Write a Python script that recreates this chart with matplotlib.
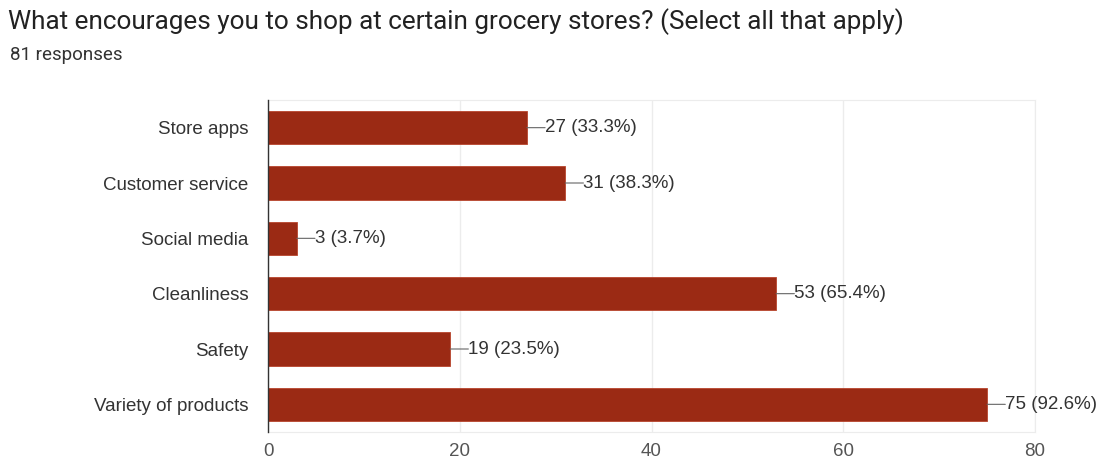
import matplotlib
matplotlib.use("Agg")
import matplotlib.pyplot as plt

categories = ["Store apps", "Customer service", "Social media",
              "Cleanliness", "Safety", "Variety of products"]
counts = [27, 31, 3, 53, 19, 75]
percents = [33.3, 38.3, 3.7, 65.4, 23.5, 92.6]
xticks = [0, 20, 40, 60, 80]

bar_color = "#9b2a14"

fig = plt.figure(figsize=(11.05, 4.61), dpi=100)
ax = fig.add_axes([268 / 1105, 1 - 432 / 461, (1035 - 268) / 1105, (432 - 100) / 461])

y = list(range(len(categories)))
ax.barh(y, counts, height=0.6, color=bar_color, edgecolor="#b8442c", linewidth=0.6, zorder=3)
ax.set_ylim(len(categories) - 0.5, -0.5)
ax.set_xlim(0, 80)
ax.set_yticks(y)
ax.set_yticklabels(categories, fontsize=13.5, color="#333333", family="Liberation Sans")
ax.set_xticks(xticks)
ax.set_xticklabels([str(t) for t in xticks], fontsize=13.5, color="#555555", family="Liberation Sans")
ax.tick_params(axis="both", length=0)
ax.tick_params(axis="y", pad=14)
ax.tick_params(axis="x", pad=8)

ax.grid(axis="x", color="#ececec", linewidth=1, zorder=0)
for side in ["top", "right", "bottom"]:
    ax.spines[side].set_color("#ececec")
ax.spines["left"].set_color("#333333")
ax.spines["left"].set_linewidth(1.0)
ax.spines["left"].set_zorder(4)

# value annotations with short leader lines
for yi, c, p in zip(y, counts, percents):
    ax.annotate("", xy=(c, yi), xytext=(c + 1.9, yi),
                arrowprops=dict(arrowstyle="-", color="#666666", lw=0.8,
                                shrinkA=0, shrinkB=0))
    ax.text(c + 1.9, yi, f"{c} ({p}%)", va="center", ha="left",
            fontsize=13.5, color="#333333", family="Liberation Sans")

fig.text(8 / 1105, 1 - 22 / 461, "What encourages you to shop at certain grocery stores? (Select all that apply)",
         fontsize=18.8, color="#222222", family="Roboto", va="center", ha="left")
fig.text(10 / 1105, 1 - 55 / 461, "81 responses", fontsize=13.5, color="#333333",
         family="Roboto", va="center", ha="left")

fig.savefig("out.png", dpi=100, facecolor="white")
